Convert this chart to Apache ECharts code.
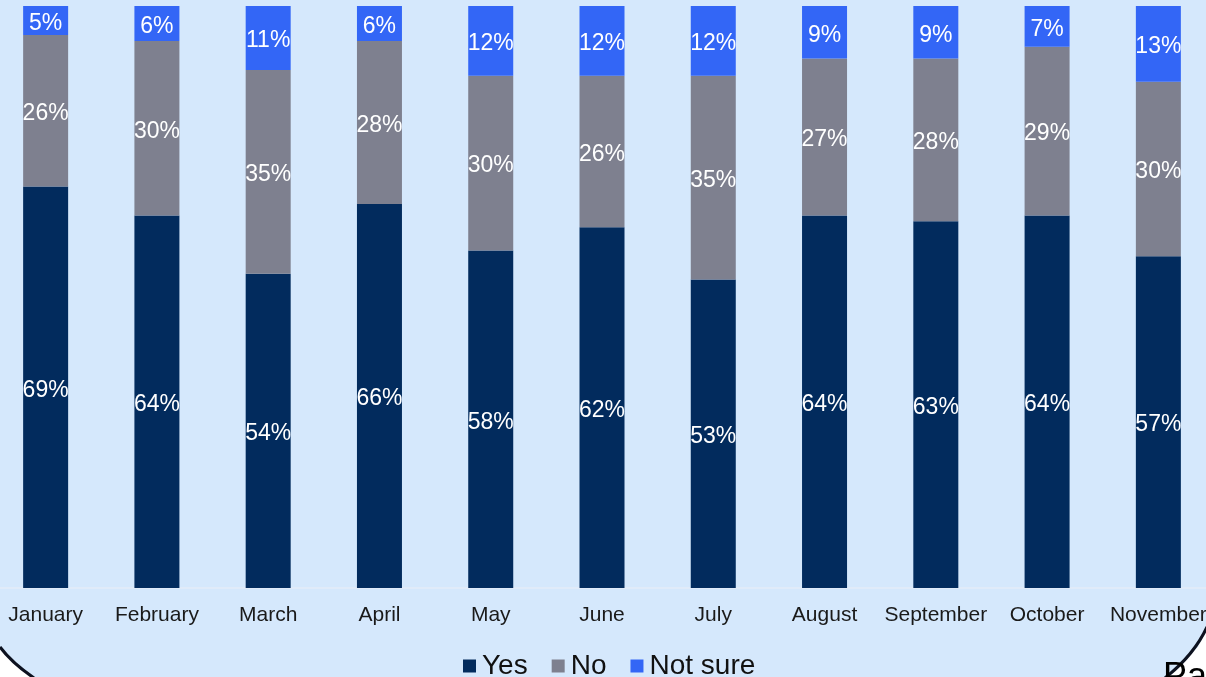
<!DOCTYPE html>
<html>
<head>
<meta charset="utf-8">
<script src="https://cdn.jsdelivr.net/npm/echarts@6/dist/echarts.min.js"></script>
<style>
  html, body { margin: 0; padding: 0; background: #d5e8fc; overflow: hidden; }
  /* plot runs slightly past both window edges, like the source slide */
  #chart { width: 1224px; height: 677px; margin-left: -10px; }
</style>
</head>
<body>
<div id="chart"></div>
<script>
const months = ["January", "February", "March", "April", "May", "June", "July", "August", "September", "October", "November"];
const yesData = [69, 64, 54, 66, 58, 62, 53, 64, 63, 64, 57];
const noData = [26, 30, 35, 28, 30, 26, 35, 27, 28, 29, 30];
const notSureData = [5, 6, 11, 6, 12, 12, 12, 9, 9, 7, 13];

const chart = echarts.init(document.getElementById("chart"));
const FONT = "Liberation Sans, Arial";
// container is shifted 10px left of the page
const dx = 10;

const segLabel = {
  show: true,
  position: "inside",
  offset: [0, 3],
  color: "#fff",
  fontFamily: FONT,
  fontSize: 23,
  formatter: "{c}%",
};

function makeSeries (name, data, color) {
  return {
    name: name,
    type: "bar",
    stack: "total",
    barWidth: 45,
    data: data,
    itemStyle: { color: color },
    label: segLabel,
  };
}

function shift (pts) {
  return pts.map(p => [p[0] + dx, p[1]]);
}

const option = {
  backgroundColor: "#d5e8fc",
  animation: false,
  grid: {
    left: 0,
    right: 0,
    top: 6,
    bottom: 89,
  },
  xAxis: {
    type: "category",
    data: months,
    axisTick: { show: false },
    axisLine: { lineStyle: { color: "#e3edf9", width: 1.5 } },
    axisLabel: {
      color: "#1a1a1a",
      fontFamily: FONT,
      fontSize: 21,
      margin: 17,
      interval: 0,
    },
  },
  yAxis: {
    type: "value",
    min: 0,
    max: 100,
    show: false,
  },
  legend: {
    data: ["Yes", "No", "Not sure"],
    left: 463 + dx - 5,
    top: 647,
    icon: "rect",
    itemWidth: 13,
    itemHeight: 13,
    itemGap: 24,
    textStyle: {
      color: "#111",
      fontFamily: FONT,
      fontSize: 28,
      padding: [0, 0, 0, 1],
    },
  },
  series: [
    makeSeries("Yes", yesData, "#022b5d"),
    makeSeries("No", noData, "#7e808f"),
    makeSeries("Not sure", notSureData, "#3366f6"),
  ],
  graphic: [
    {
      type: "polygon",
      shape: { points: shift([[0, 647], [13, 662], [22, 670], [34, 677], [0, 677]]) },
      style: { fill: "#ffffff" },
      z: 10,
    },
    {
      type: "bezierCurve",
      shape: { x1: dx, y1: 647, cpx1: 12 + dx, cpy1: 663, x2: 34 + dx, y2: 678 },
      style: { stroke: "#0d1220", lineWidth: 3, fill: null },
      z: 11,
    },
    {
      type: "polygon",
      shape: { points: shift([[1206, 628], [1198, 647], [1181, 663], [1166, 677], [1206, 677]]) },
      style: { fill: "#ffffff" },
      z: 10,
    },
    {
      type: "bezierCurve",
      shape: { x1: 1207 + dx, y1: 627, cpx1: 1194 + dx, cpy1: 655, x2: 1165 + dx, y2: 678 },
      style: { stroke: "#0d1220", lineWidth: 3, fill: null },
      z: 11,
    },
    {
      type: "text",
      left: 1163 + dx,
      top: 660,
      style: {
        text: "Pa",
        fill: "#000",
        font: "36px Liberation Sans, Arial",
      },
      z: 12,
    },
  ],
};

chart.setOption(option);
</script>
</body>
</html>
